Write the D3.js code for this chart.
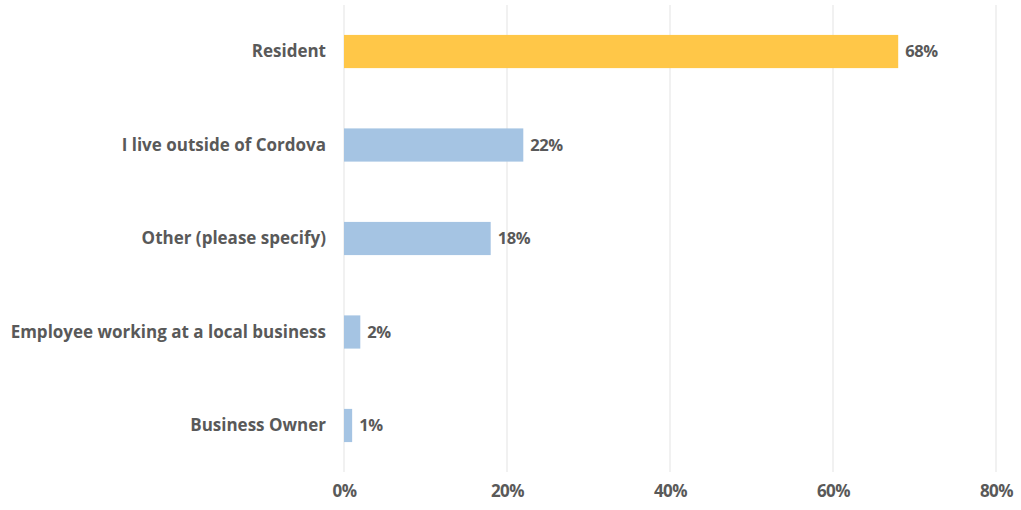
<!DOCTYPE html>
<html>
<head>
<meta charset="utf-8">
<script src="https://cdn.jsdelivr.net/npm/d3@7/dist/d3.min.js"></script>
<style>
  body { margin: 0; background: #fff; }
  svg text { font-family: "Open Sans", Lato, sans-serif; font-weight: 700; fill: #595959; }
</style>
</head>
<body>
<svg id="chart" width="1021" height="510"></svg>
<script>
// Respondent relationship to Cordova
const categories = ["Resident", "I live outside of Cordova", "Other (please specify)", "Employee working at a local business", "Business Owner"];
const values = [68, 22, 18, 2, 1];
const colors = ["#FFC748", "#A5C4E3", "#A5C4E3", "#A5C4E3", "#A5C4E3"];
const ticks = [0, 20, 40, 60, 80];

const svg = d3.select("#chart");
const margin = { left: 344, right: 25, top: 5, bottom: 38 };
const W = 1021, H = 510;

const x = d3.scaleLinear().domain([0, 80]).range([margin.left, W - margin.right]);
const y = d3.scaleBand().domain(categories).range([margin.top, H - margin.bottom]).paddingInner(0.645).paddingOuter(0.32);

// vertical gridlines
svg.append("g").selectAll("line").data(ticks).join("line")
  .attr("x1", d => x(d)).attr("x2", d => x(d))
  .attr("y1", margin.top).attr("y2", H - margin.bottom)
  .attr("stroke", "#e3e3e3").attr("stroke-width", 1);

// bars
svg.append("g").selectAll("rect").data(values).join("rect")
  .attr("x", x(0))
  .attr("y", (d, i) => y(categories[i]))
  .attr("width", d => x(d) - x(0))
  .attr("height", y.bandwidth())
  .attr("fill", (d, i) => colors[i]);

// value labels
svg.append("g").selectAll("text").data(values).join("text")
  .attr("x", d => x(d) + 7)
  .attr("y", (d, i) => y(categories[i]) + y.bandwidth() / 2)
  .attr("dy", "0.35em")
  .attr("font-size", 16.5)
  .attr("letter-spacing", -0.4)
  .text(d => d + "%");

// category labels
svg.append("g").selectAll("text").data(categories).join("text")
  .attr("x", margin.left - 18)
  .attr("y", d => y(d) + y.bandwidth() / 2)
  .attr("dy", "0.35em")
  .attr("text-anchor", "end")
  .attr("font-size", 17)
  .text(d => d);

// x axis tick labels
const axis = svg.append("g")
  .attr("transform", `translate(0,${H - 13})`)
  .call(d3.axisBottom(x).tickValues(ticks).tickFormat(d => d + "%").tickSize(0).tickPadding(0));
axis.select(".domain").remove();
axis.selectAll("text").attr("font-size", 17).attr("letter-spacing", -0.5).attr("dy", "0");
</script>
</body>
</html>
